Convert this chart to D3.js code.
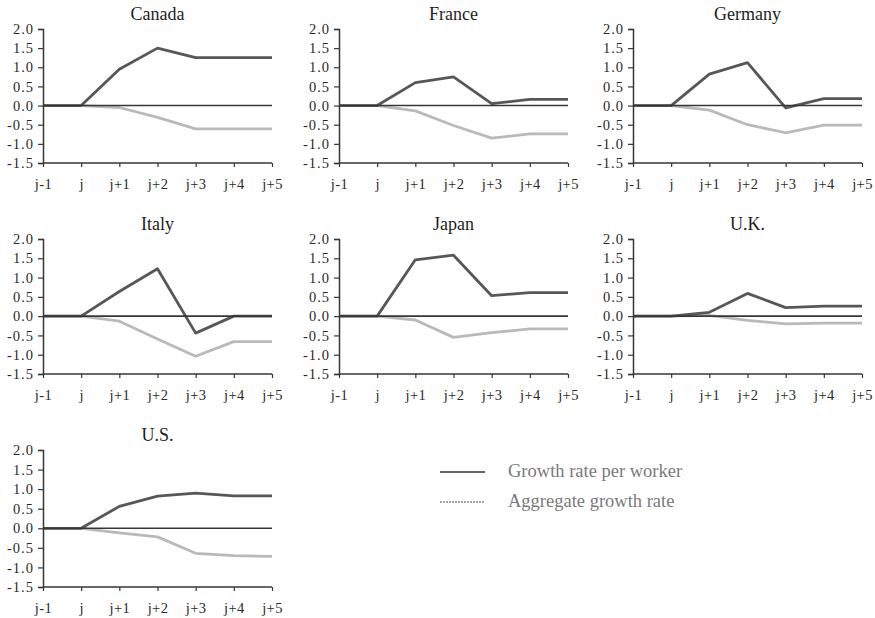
<!DOCTYPE html>
<html>
<head>
<meta charset="utf-8">
<script src="https://cdn.jsdelivr.net/npm/d3@7"></script>
<style>
  body { margin: 0; background: #fff; }
  svg { display: block; }
  text { font-family: "Liberation Serif", "Times New Roman", serif; }
</style>
</head>
<body>
<svg id="chart" width="875" height="618"></svg>
<script>
// ---- Data ----
const periods = ["j-1", "j", "j+1", "j+2", "j+3", "j+4", "j+5"];
const countries = ["Canada", "France", "Germany", "Italy", "Japan", "U.K.", "U.S."];
const yTicks = [2.0, 1.5, 1.0, 0.5, 0.0, -0.5, -1.0, -1.5];
const seriesNames = ["Growth rate per worker", "Aggregate growth rate"];

const perWorker = {
  "Canada":  [0, 0, 0.95, 1.50, 1.25, 1.25, 1.25],
  "France":  [0, 0, 0.60, 0.75, 0.05, 0.16, 0.16],
  "Germany": [0, 0, 0.82, 1.12, -0.06, 0.18, 0.18],
  "Italy":   [0, 0, 0.64, 1.23, -0.44, 0.00, 0.00],
  "Japan":   [0, 0, 1.46, 1.58, 0.53, 0.61, 0.61],
  "U.K.":    [0, 0, 0.10, 0.59, 0.22, 0.26, 0.26],
  "U.S.":    [0, 0, 0.56, 0.82, 0.90, 0.83, 0.83]
};
const aggregate = {
  "Canada":  [0, 0, -0.05, -0.31, -0.61, -0.61, -0.61],
  "France":  [0, 0, -0.14, -0.52, -0.85, -0.74, -0.74],
  "Germany": [0, 0, -0.12, -0.50, -0.71, -0.51, -0.51],
  "Italy":   [0, 0, -0.13, -0.59, -1.04, -0.66, -0.66],
  "Japan":   [0, 0, -0.10, -0.55, -0.43, -0.33, -0.33],
  "U.K.":    [0, 0, 0.02, -0.11, -0.20, -0.18, -0.18],
  "U.S.":    [0, 0, -0.12, -0.22, -0.64, -0.70, -0.72]
};

// ---- Layout ----
const colX = [43, 339, 633];
const rowTop = [29, 239, 450];
const rowH = [134, 135, 137];
const panelW = 229;
const colors = { worker: "#575757", aggregate: "#b9b9b9", axis: "#363636" };

const svg = d3.select("#chart");

countries.forEach((c, i) => {
  const col = i % 3, row = Math.floor(i / 3);
  const x0 = colX[col], y0 = rowTop[row], h = rowH[row];
  const g = svg.append("g").attr("transform", `translate(${x0},${y0})`);

  const x = d3.scalePoint().domain(periods).range([0, panelW]);
  const y = d3.scaleLinear().domain([-1.5, 2.0]).range([h, 0]);

  const line = d3.line().x((d, k) => x(periods[k])).y(d => y(d));
  g.append("path").datum(aggregate[c]).attr("d", line)
    .attr("fill", "none").attr("stroke", colors.aggregate).attr("stroke-width", 2.8)
    .attr("stroke-linejoin", "round");
  g.append("path").datum(perWorker[c]).attr("d", line)
    .attr("fill", "none").attr("stroke", colors.worker).attr("stroke-width", 2.8)
    .attr("stroke-linejoin", "round");

  // zero line
  g.append("line").attr("x1", 0).attr("x2", panelW)
    .attr("y1", y(0)).attr("y2", y(0))
    .attr("stroke", colors.axis).attr("stroke-width", 1.6);

  // y axis
  const ya = g.append("g").call(d3.axisLeft(y).tickValues(yTicks)
      .tickFormat(d => d3.format(".1f")(d).replace("−", "-")).tickSize(5).tickPadding(4));
  ya.attr("font-family", null).attr("font-size", null);
  ya.select(".domain").attr("stroke", colors.axis).attr("stroke-width", 1.5);
  ya.selectAll(".tick line").attr("stroke", colors.axis).attr("stroke-width", 1.2);
  ya.selectAll(".tick text").attr("font-size", 14.5).attr("letter-spacing", 1)
    .attr("fill", "#2a2a2a");

  // x axis
  const xa = g.append("g").attr("transform", `translate(0,${h})`)
    .call(d3.axisBottom(x).tickSize(4).tickPadding(12));
  xa.attr("font-family", null).attr("font-size", null);
  xa.select(".domain").attr("stroke", colors.axis).attr("stroke-width", 1.5)
    .attr("d", `M0,0H${panelW}`);
  xa.selectAll(".tick line").attr("stroke", colors.axis).attr("stroke-width", 1.2);
  xa.selectAll(".tick text").attr("font-size", 14.5).attr("letter-spacing", 0.4)
    .attr("fill", "#2a2a2a");

  // title
  g.append("text").attr("x", panelW / 2).attr("y", -9)
    .attr("text-anchor", "middle").attr("font-size", 18).attr("fill", "#1e1e1e")
    .text(c);
});

// ---- Legend ----
const legend = svg.append("g");
const legY = [472, 502];
legend.append("line").attr("x1", 440).attr("x2", 485).attr("y1", legY[0]).attr("y2", legY[0])
  .attr("stroke", "#666").attr("stroke-width", 2.2);
legend.append("line").attr("x1", 440).attr("x2", 485).attr("y1", legY[1]).attr("y2", legY[1])
  .attr("stroke", "#888").attr("stroke-width", 1.4).attr("stroke-dasharray", "2,1");
seriesNames.forEach((s, k) => {
  legend.append("text").attr("x", 508).attr("y", legY[k] + 5)
    .attr("font-size", 18.5).attr("fill", "#7a7a7a").text(s);
});
</script>
</body>
</html>
